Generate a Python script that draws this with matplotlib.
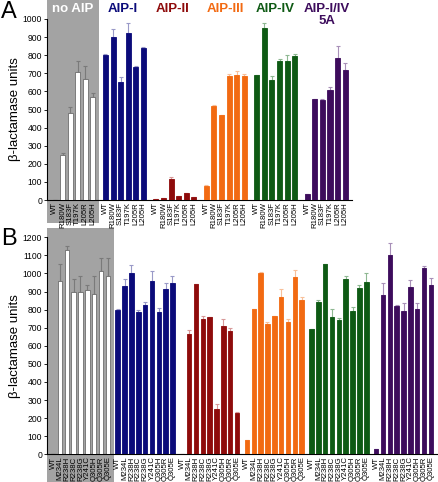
import matplotlib
matplotlib.use("Agg")
import matplotlib.pyplot as plt
import numpy as np
from matplotlib.patches import Rectangle

plt.rcParams['font.family'] = ['Liberation Sans', 'DejaVu Sans']

# ---------------- data ----------------
groups = ["no AIP", "AIP-I", "AIP-II", "AIP-III", "AIP-IV", "AIP-I/IV\n5A"]
colors = ["#ffffff", "#0b0b7a", "#8e0b0b", "#f26a12", "#0e5a14", "#3d0c5c"]
err_colors = ["#7a7a7a", "#9a9ac8", "#d89a9a", "#f8c09a", "#8fb892", "#a890b8"]

labels_a = ["WT", "R180W", "S183F", "T197K", "L205R", "L205H"]
vals_a = [
    [2, 247, 479, 709, 670, 571],
    [801, 899, 654, 921, 737, 841],
    [4, 11, 118, 20, 39, 17],
    [79, 519, 471, 685, 689, 683],
    [692, 950, 661, 766, 768, 796],
    [31, 556, 551, 610, 783, 718],
]
errs_a = [
    [0, 11, 33, 59, 70, 18],
    [5, 44, 24, 55, 5, 2],
    [0, 0, 7, 2, 0, 0],
    [4, 6, 0, 11, 24, 15],
    [0, 28, 24, 13, 33, 11],
    [0, 4, 7, 12, 68, 41],
]

labels_b = ["WT", "M234L", "R238H", "R238C", "R238G", "Y241C", "Q305H", "Q305R", "Q305E"]
vals_b = [
    [2, 960, 1130, 900, 896, 909, 887, 1016, 986],
    [798, 931, 1005, 789, 826, 960, 787, 914, 949],
    [2, 665, 942, 747, 760, 250, 710, 680, 230],
    [77, 802, 1005, 721, 765, 868, 732, 981, 853],
    [693, 844, 1052, 761, 743, 971, 793, 922, 953],
    [29, 879, 1100, 820, 793, 927, 804, 1032, 938],
]
errs_b = [
    [0, 91, 24, 68, 92, 27, 101, 68, 98],
    [7, 37, 42, 9, 18, 54, 20, 35, 39],
    [0, 23, 2, 18, 2, 28, 37, 20, 4],
    [4, 4, 3, 9, 2, 44, 15, 36, 15],
    [0, 9, 3, 43, 9, 15, 20, 14, 48],
    [0, 70, 67, 3, 42, 37, 31, 9, 35],
]

W, H = 438, 482
fig = plt.figure(figsize=(W / 100, H / 100), dpi=100)


def fx(px):
    return px / W


def fy(py):
    return 1 - py / H


def draw_panel(ax, labels, vals, errs, gstep, xlim, ylim, yticks):
    n = len(labels)
    allx, alll = [], []
    for g in range(len(groups)):
        xs = g * gstep + np.arange(n)
        c = colors[g]
        ec = "#6e6e6e" if c == "#ffffff" else c
        ax.bar(xs, vals[g], width=0.66, color=c, edgecolor=ec, linewidth=0.6, zorder=3)
        ax.errorbar(xs, vals[g], yerr=[np.zeros(n), errs[g]], fmt="none",
                    ecolor=err_colors[g], elinewidth=0.8, capsize=1.6, capthick=0.8, zorder=2)
        allx.extend(xs)
        alll.extend(labels)
    ax.set_xticks(allx)
    ax.set_xticklabels(alll, rotation=90, fontsize=5.6, linespacing=0.8)
    ax.tick_params(axis="x", length=0, pad=1.5)
    ax.set_xlim(*xlim)
    ax.set_ylim(*ylim)
    ax.set_yticks(yticks)
    ax.tick_params(axis="y", labelsize=6.2, length=2.5, width=0.6, pad=1)
    for s in ["top", "right"]:
        ax.spines[s].set_visible(False)
    for s in ["left", "bottom"]:
        ax.spines[s].set_linewidth(0.8)
    ax.set_ylabel("β-lactamase units", fontsize=9.5, labelpad=3)
    ax.patch.set_alpha(0)


# grey background boxes (figure coordinates, drawn beneath the axes)
gray = "#a3a3a3"
fig.add_artist(Rectangle((fx(47), fy(222.5)), fx(98.5) - fx(47), fy(0) - fy(222.5),
                         transform=fig.transFigure, facecolor=gray, edgecolor="none", zorder=-5))
fig.add_artist(Rectangle((fx(47), fy(482)), fx(113.5) - fx(47), fy(228) - fy(482),
                         transform=fig.transFigure, facecolor=gray, edgecolor="none", zorder=-5))

# panel A
axA = fig.add_axes([fx(47), fy(200), fx(352) - fx(47), fy(19) - fy(200)])
draw_panel(axA, labels_a, vals_a, errs_a, 6.65, (-1.05, 5 * 6.65 + 5 + 0.9), (0, 1000),
           np.arange(0, 1001, 100))
axA.yaxis.set_label_coords(-0.085, 0.5)

# panel B
axB = fig.add_axes([fx(47), fy(454.3), fx(437) - fx(47), fy(237.3) - fy(454.3)])
draw_panel(axB, labels_b, vals_b, errs_b, 9.45, (-0.9, 5 * 9.45 + 8 + 0.9), (0, 1200),
           np.arange(0, 1201, 100))
axB.yaxis.set_label_coords(-0.066, 0.5)

# group titles for panel A
title_x = [72.5, 123, 173, 225, 275, 327]
for g, name in enumerate(groups):
    tc = "#ffffff" if g == 0 else colors[g]
    fig.text(fx(title_x[g]), fy(3), name, color=tc, fontsize=9.5, fontweight="bold",
             ha="center", va="top", linespacing=0.95)

fig.text(fx(1), fy(1), "A", fontsize=17, ha="left", va="top")
fig.text(fx(1), fy(228), "B", fontsize=17, ha="left", va="top")

fig.savefig("out.png", dpi=100)
